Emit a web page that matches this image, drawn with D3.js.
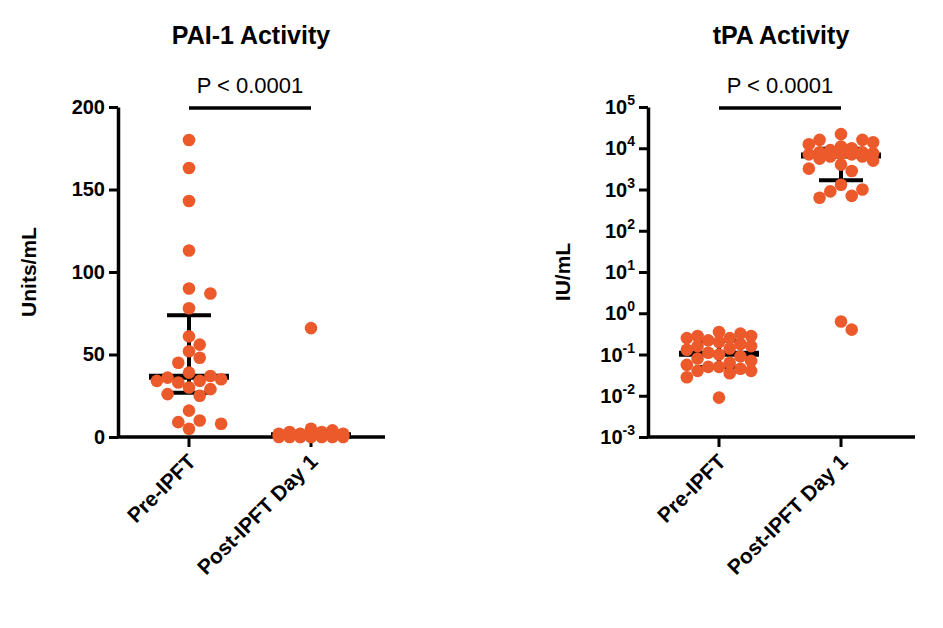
<!DOCTYPE html>
<html><head><meta charset="utf-8">
<script src="https://cdn.jsdelivr.net/npm/d3@7"></script>
<style>body{margin:0;background:#fff}text{font-family:Arial,"Liberation Sans",sans-serif}</style>
</head><body><svg id="c" width="943" height="628"></svg>
<script>
const groups = ['Pre-IPFT', 'Post-IPFT Day 1'];
const paiPre = [180, 163, 143, 113, 90, 87, 78, 61, 56, 52, 48, 45, 39, 37, 36, 35, 34, 34, 33, 30, 29, 26, 25, 16, 10, 9, 8, 5];
const paiPost = [66, 5, 4, 3, 3, 2, 2, 2, 2, 1.5, 1.5, 1, 1, 1, 1, 1, 0.5, 0.5, 0.5, 0.5, 0, 0, 0, 0, 0, 0, 0];
const tpaPre = [0.35, 0.32, 0.28, 0.28, 0.25, 0.25, 0.22, 0.2, 0.18, 0.16, 0.16, 0.14, 0.13, 0.11, 0.1, 0.09, 0.08, 0.07, 0.063, 0.056, 0.05, 0.05, 0.045, 0.04, 0.04, 0.035, 0.028, 0.009];
const tpaPost = [22000, 16000, 16000, 14000, 12500, 11000, 10000, 9000, 8000, 8000, 7600, 7100, 7100, 7100, 6300, 6300, 5600, 5000, 4000, 3200, 2800, 1300, 1000, 900, 700, 630, 0.63, 0.4];
const paiTicks = [0, 50, 100, 150, 200];
const tpaTicks = [-3, -2, -1, 0, 1, 2, 3, 4, 5];

const svg = d3.select('#c');
const ORANGE = '#ec5a2b', R = 6.3, MAXW = 42;

// swarm limited to a band; overlap allowed when the band is full
function swarm(vals, y, cx) {
  const placed = [];
  const sorted = vals.slice().sort((a, b) => d3.descending(a, b));
  sorted.forEach(v => {
    const py = y(v);
    let best = null, bestD = -1;
    for (let k = 0; k < 40; k++) {
      const off = (k % 2 ? 1 : -1) * Math.ceil(k / 2) * R * 1.7;
      if (Math.abs(off) > MAXW) break;
      const px = cx + off;
      const d = placed.length ? d3.min(placed, p => Math.hypot(p.x - px, p.y - py)) : 1e9;
      if (d >= 2 * R * 0.98) { best = px; break; }
      if (d > bestD) { bestD = d; best = px; }
    }
    placed.push({x: best, y: py});
  });
  return placed;
}

// Prism-style quantile, position (n+1)p
function q(s, p) {
  const h = (s.length + 1) * p - 1, lo = Math.max(0, Math.floor(h)), hi = Math.min(s.length - 1, lo + 1);
  return s[lo] + (s[hi] - s[lo]) * (h - lo);
}

function panel(opt) {
  const g = svg.append('g');
  const x = d3.scalePoint().domain(groups).range([opt.x0 + 71, opt.x0 + 193]);
  const y = opt.y;
  const ya = g.append('g').attr('transform', `translate(${opt.x0},0)`).call(opt.axis);
  ya.select('.domain').attr('stroke-width', 3.5);
  ya.selectAll('.tick line').attr('stroke-width', 3).attr('x2', -9);
  ya.selectAll('.tick text').attr('font-size', 20).attr('font-weight', 'bold').attr('x', -13);
  g.append('line').attr('x1', opt.x0 - 1).attr('x2', opt.x0 + 267).attr('y1', 437).attr('y2', 437).attr('stroke', '#000').attr('stroke-width', 3.5);
  groups.forEach(gr => {
    g.append('line').attr('x1', x(gr)).attr('x2', x(gr)).attr('y1', 437).attr('y2', 447).attr('stroke', '#000').attr('stroke-width', 3);
    g.append('text').attr('transform', `translate(${x(gr) + 8},${463}) rotate(-45)`).attr('text-anchor', 'end')
      .attr('font-size', 21).attr('font-weight', 'bold').text(gr);
  });
  opt.data.forEach((vals, i) => {
    const s = vals.slice().sort(d3.ascending), cx = x(groups[i]);
    const q1 = q(s, 0.25), md = q(s, 0.5), q3 = q(s, 0.75);
    g.append('line').attr('x1', cx).attr('x2', cx).attr('y1', y(q1)).attr('y2', y(q3)).attr('stroke', '#000').attr('stroke-width', 4);
    [q1, q3].forEach(v => g.append('line').attr('x1', cx - 22).attr('x2', cx + 22).attr('y1', y(v)).attr('y2', y(v)).attr('stroke', '#000').attr('stroke-width', 4));
    g.append('line').attr('x1', cx - 40).attr('x2', cx + 40).attr('y1', y(md)).attr('y2', y(md)).attr('stroke', '#000').attr('stroke-width', 6);
    g.selectAll(null).data(swarm(vals, y, cx)).join('circle').attr('cx', d => d.x).attr('cy', d => d.y).attr('r', R).attr('fill', ORANGE);
  });
  g.append('text').attr('x', opt.x0 + 133).attr('y', 44).attr('text-anchor', 'middle').attr('font-size', 25).attr('font-weight', 'bold').text(opt.title);
  g.append('text').attr('x', opt.x0 + 132).attr('y', 93).attr('text-anchor', 'middle').attr('font-size', 22).text('P < 0.0001');
  g.append('line').attr('x1', x(groups[0])).attr('x2', x(groups[1])).attr('y1', 108).attr('y2', 108).attr('stroke', '#000').attr('stroke-width', 3.5);
  g.append('text').attr('transform', `translate(${opt.x0 - opt.labelOff},272) rotate(-90)`).attr('text-anchor', 'middle')
    .attr('font-size', 21).attr('font-weight', 'bold').text(opt.ylabel);
}

const yPai = d3.scaleLinear().domain([0, 200]).range([437, 107]);
panel({x0: 118, y: yPai, data: [paiPre, paiPost], title: 'PAI-1 Activity', ylabel: 'Units/mL', labelOff: 82,
  axis: d3.axisLeft(yPai).tickValues(paiTicks).tickSizeOuter(0)});

const yTpa = d3.scaleLog().domain([1e-3, 1e5]).range([437, 107]);
panel({x0: 648, y: yTpa, data: [tpaPre, tpaPost], title: 'tPA Activity', ylabel: 'IU/mL', labelOff: 78,
  axis: d3.axisLeft(yTpa).tickValues(tpaTicks.map(e => Math.pow(10, e))).tickFormat('').tickSizeOuter(0)});
svg.selectAll(null).data(tpaTicks).join('text').attr('x', 635).attr('y', e => yTpa(Math.pow(10, e)) + 7)
  .attr('text-anchor', 'end').attr('font-size', 20).attr('font-weight', 'bold')
  .each(function(e) {
    const t = d3.select(this);
    t.append('tspan').text('10');
    t.append('tspan').attr('dy', -9).attr('font-size', 14).text(e);
  });
</script></body></html>
